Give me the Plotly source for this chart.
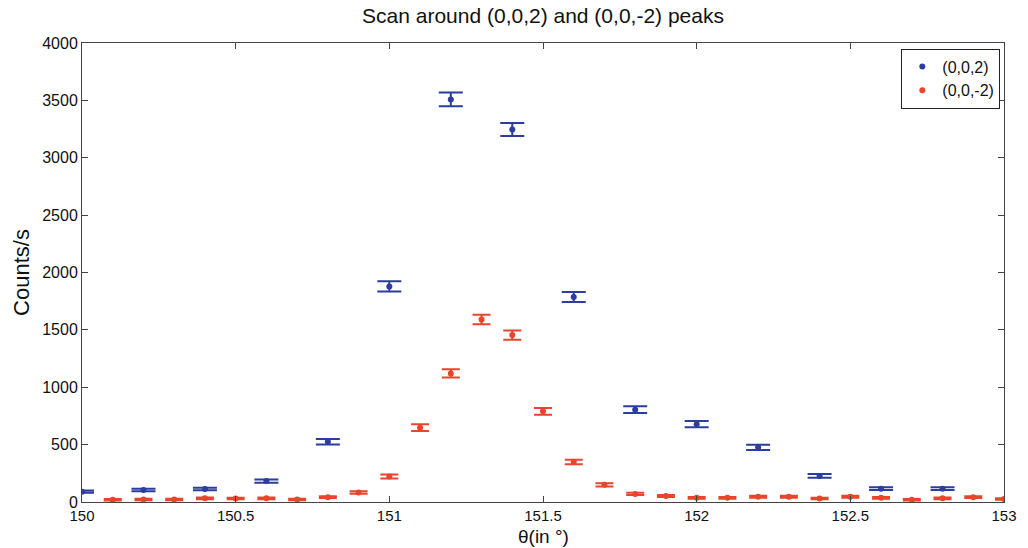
import plotly.graph_objects as go

# (0,0,2) scan
x_pos = [150.0, 150.2, 150.4, 150.6, 150.8, 151.0, 151.2, 151.4, 151.6, 151.8,
         152.0, 152.2, 152.4, 152.6, 152.8]
y_pos = [90, 105, 113, 182, 526, 1879, 3508, 3246, 1786, 805,
         678, 477, 227, 116, 116]
e_pos = [10, 11, 11, 14, 24, 45, 60, 57, 44, 30, 27, 23, 16, 12, 12]

# (0,0,-2) scan
x_neg = [150.1, 150.2, 150.3, 150.4, 150.5, 150.6, 150.7, 150.8, 150.9, 151.0,
         151.1, 151.2, 151.3, 151.4, 151.5, 151.6, 151.7, 151.8, 151.9, 152.0,
         152.1, 152.2, 152.3, 152.4, 152.5, 152.6, 152.7, 152.8, 152.9, 153.0]
y_neg = [20, 22, 22, 32, 30, 32, 22, 42, 82, 222,
         648, 1120, 1590, 1455, 790, 348, 150, 70, 52, 36,
         36, 46, 46, 30, 46, 36, 20, 32, 42, 26]
e_neg = [6, 6, 6, 7, 7, 7, 6, 8, 11, 18,
         30, 36, 42, 40, 30, 20, 14, 10, 8, 7,
         7, 8, 8, 7, 8, 7, 6, 7, 8, 6]

x_ticks = [150, 150.5, 151, 151.5, 152, 152.5, 153]
x_tick_text = ["150", "150.5", "151", "151.5", "152", "152.5", "153"]
y_ticks = [0, 500, 1000, 1500, 2000, 2500, 3000, 3500, 4000]

BLUE = "#2b3d9f"
RED = "#e8452c"
FONT = "Liberation Sans, Arial, sans-serif"

W, H = 1028, 548
M = dict(l=82, r=24, t=43, b=46)

fig = go.Figure()
fig.add_trace(go.Scatter(
    x=x_pos, y=y_pos, mode="markers", name="(0,0,2)",
    marker=dict(color=BLUE, size=6),
    error_y=dict(type="data", array=e_pos, visible=True, color=BLUE,
                 thickness=2, width=12),
))
fig.add_trace(go.Scatter(
    x=x_neg, y=y_neg, mode="markers", name="(0,0,-2)",
    marker=dict(color=RED, size=6),
    error_y=dict(type="data", array=e_neg, visible=True, color=RED,
                 thickness=2, width=9),
))

axis_common = dict(
    showline=True, linecolor="#444", linewidth=1, mirror="ticks",
    ticks="inside", ticklen=6, tickcolor="#444", showgrid=False, zeroline=False,
    tickfont=dict(family=FONT, size=16, color="#111"), automargin=False,
)

plot_h = H - M["t"] - M["b"]

fig.update_layout(
    width=W, height=H,
    margin=M,
    paper_bgcolor="white", plot_bgcolor="white",
    title=dict(text="Scan around (0,0,2) and (0,0,-2) peaks",
               x=0.5, xref="paper", xanchor="center",
               y=1 - 16 / H, yref="container", yanchor="middle",
               font=dict(family=FONT, size=21, color="#111")),
    xaxis=dict(range=[150, 153], tickvals=x_ticks, ticktext=x_tick_text,
               ticklabelstandoff=0,
               **{**axis_common, "tickfont": dict(family=FONT, size=15, color="#111")}),
    yaxis=dict(range=[0, 4000], tickvals=y_ticks,
               title=dict(text="Counts/s", standoff=6,
                          font=dict(family=FONT, size=22, color="#111")),
               **axis_common),
    legend=dict(x=0.996, y=0.988, xanchor="right", yanchor="top",
                bordercolor="#222", borderwidth=1, bgcolor="white",
                font=dict(family=FONT, size=16, color="#111"),
                tracegroupgap=0),
    showlegend=True,
)

fig.add_annotation(
    text="θ(in °)", xref="paper", yref="paper", x=0.5,
    y=-(536 - (H - M["b"])) / plot_h, xanchor="center", yanchor="middle",
    showarrow=False, font=dict(family=FONT, size=19, color="#111"),
    borderpad=0,
)

fig.write_html("out.html")
